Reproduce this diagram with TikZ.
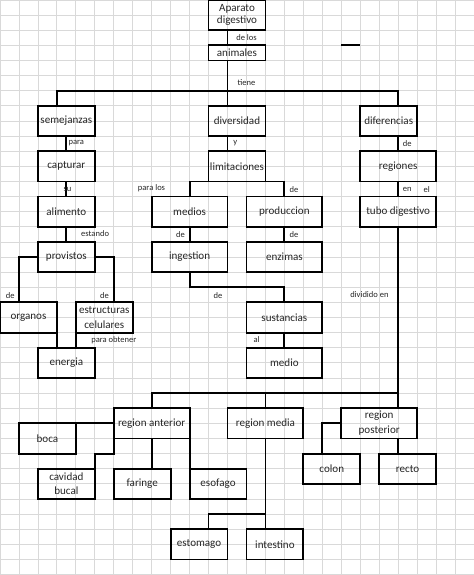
\documentclass[tikz,border=0pt]{standalone}
\usepackage{fontspec}
\setmainfont{Carlito}
\begin{document}
\begin{tikzpicture}[x=14.22pt, y=-11.34pt,
  gridline/.style={draw=black!15, line width=0.6pt},
  box/.style 2 args={draw, line width=1.4pt, minimum width=#1*14.22pt, minimum height=#2*11.34pt,
    inner sep=0pt, outer sep=0pt, align=center, font=\fontsize{8.3}{11}\selectfont, text=black!85},
  lbl/.style={font=\fontsize{6.4}{7}\selectfont, inner sep=0pt, anchor=west, text=black!85},
  conn/.style={draw, line width=1.4pt}]
\useasboundingbox (0,0) rectangle (25,38.03);
% grid
\foreach \i in {0,...,25} \draw[gridline] (\i,0) -- (\i,38.03);
\foreach \j in {0,...,38} \draw[gridline] (0,\j) -- (25,\j);
% nodes
\node[box={3}{2}, font=\fontsize{8.3}{9}\selectfont] (apar) at (12.5,1) {Aparato\\digestivo};
\node[box={3}{1}] (anim) at (12.5,3.5) {animales};
\node[box={3}{2}] (sem) at (3.5,8) {semejanzas};
\node[box={3}{2}] (div) at (12.5,8) {diversidad};
\node[box={3}{2}] (dif) at (20.5,8) {diferencias};
\node[box={3}{2}] (cap) at (3.5,11) {capturar};
\node[box={3}{2}] (lim) at (12.5,11) {limitaciones};
\node[box={4}{2}] (reg) at (21,11) {regiones};
\node[box={3}{2}] (ali) at (3.5,14) {alimento};
\node[box={4}{2}] (med) at (10,14) {medios};
\node[box={4}{2}] (prod) at (15,14) {produccion};
\node[box={4}{2}] (tubo) at (21,14) {tubo digestivo};
\node[box={3}{2}] (prov) at (3.5,17) {provistos};
\node[box={4}{2}] (ing) at (10,17) {ingestion};
\node[box={4}{2}] (enz) at (15,17) {enzimas};
\node[box={3}{2}] (org) at (1.5,21) {organos};
\node[box={3}{2}] (est) at (5.5,21) {estructuras\\celulares};
\node[box={4}{2}] (sus) at (15,21) {sustancias};
\node[box={3}{2}] (ene) at (3.5,24) {energia};
\node[box={4}{2}] (medio) at (15,24) {medio};
\node[box={4}{2}] (rant) at (8,28) {region anterior};
\node[box={4}{2}] (rmed) at (14,28) {region media};
\node[box={4}{2}] (rpos) at (20,28) {region\\posterior};
\node[box={3}{2}] (boca) at (2.5,29) {boca};
\node[box={3}{2}] (colon) at (17.5,31) {colon};
\node[box={3}{2}] (recto) at (21.5,31) {recto};
\node[box={3}{2}] (cav) at (3.5,32) {cavidad\\bucal};
\node[box={3}{2}] (far) at (7.5,32) {faringe};
\node[box={3}{2}] (eso) at (11.5,32) {esofago};
\node[box={3}{2}] (esto) at (10.5,36) {estomago};
\node[box={3}{2}] (int) at (14.5,36) {intestino};
% helper coordinates
\coordinate (bus1) at (12,6);
\coordinate (bus2) at (21,26);
\coordinate (strayA) at (18,3);
\coordinate (strayB) at (19,3);
% connectors
\draw[conn] (12,0 |- apar.south) -- (12,0 |- anim.north);
\draw[conn] (12,0 |- anim.south) -- (12,0 |- div.north);
\draw[conn] (3,0 |- sem.north) |- (bus1) -| (21,0 |- dif.north);
\draw[conn] (sem.south) -- (cap.north);
\draw[conn] (cap.south) -- (ali.north);
\draw[conn] (ali.south) -- (prov.north);
\draw[conn] (prov.west) -| (1,0 |- org.north);
\draw[conn] (prov.east) -| (6,0 |- est.north);
\draw[conn] (org.south east) -- (org.south east |- ene.north);
\draw[conn] (est.south west) -- (est.south west |- ene.north);
\draw[conn] (12,0 |- div.south) -- (12,0 |- lim.north);
\draw[conn] (lim.south west) -| (med.north);
\draw[conn] (lim.south east) -| (prod.north);
\draw[conn] (med.south) -- (ing.north);
\draw[conn] (prod.south) -- (enz.north);
\draw[conn] (ing.south) -- ++(0,1) -| (sus.north);
\draw[conn] (sus.south) -- (medio.north);
\draw[conn] (21,0 |- dif.south) -- (21,0 |- reg.north);
\draw[conn] (reg.south) -- (tubo.north);
\draw[conn] (tubo.south) -- (tubo.south |- rpos.north);
\draw[conn] (rant.north) |- (bus2);
\draw[conn] (rmed.north) -- (rmed.north |- bus2);
\draw[conn] (boca.north east) -- (boca.north east -| rant.west);
\draw[conn] (rant.south west) -- ++(0,1) -| (cav.north east);
\draw[conn] (rant.south) -- (rant.south |- far.north);
\draw[conn] (rant.south east) -- (eso.north west);
\draw[conn] (rmed.south) -- (rmed.south |- int.north);
\draw[conn] (rmed.south |- 0,34) -| (11,0 |- esto.north);
\draw[conn] (rpos.west) -| (17,0 |- colon.north);
\draw[conn] (21,0 |- rpos.south) -- (21,0 |- recto.north);
\draw[conn] (strayA) -- (strayB);
% labels
\node[lbl] (l1) at (12.45,2.5) {de los};
\node[lbl] (l2) at (12.52,5.47) {tiene};
\node[lbl] (l3) at (3.6,9.48) {para};
\node[lbl] (l4) at (3.34,12.52) {su};
\node[lbl] (l5) at (4.27,15.43) {estando};
\node[lbl] (l6) at (12.3,9.5) {y};
\node[lbl] (l7) at (7.26,12.45) {para los};
\node[lbl] (l8) at (15.26,12.52) {de};
\node[lbl] (l9) at (9.27,15.5) {de};
\node[lbl] (l10) at (15.26,15.5) {de};
\node[lbl] (l11) at (21.24,9.52) {de};
\node[lbl] (l12) at (21.24,12.52) {en};
\node[lbl] (l13) at (22.33,12.52) {el};
\node[lbl] (l14) at (0.3,19.55) {de};
\node[lbl] (l15) at (5.27,19.55) {de};
\node[lbl] (l16) at (4.8,22.49) {para obtener};
\node[lbl] (l17) at (11.25,19.55) {de};
\node[lbl] (l18) at (13.36,22.49) {al};
\node[lbl] (l19) at (18.46,19.47) {dividido en};
\end{tikzpicture}
\end{document}
